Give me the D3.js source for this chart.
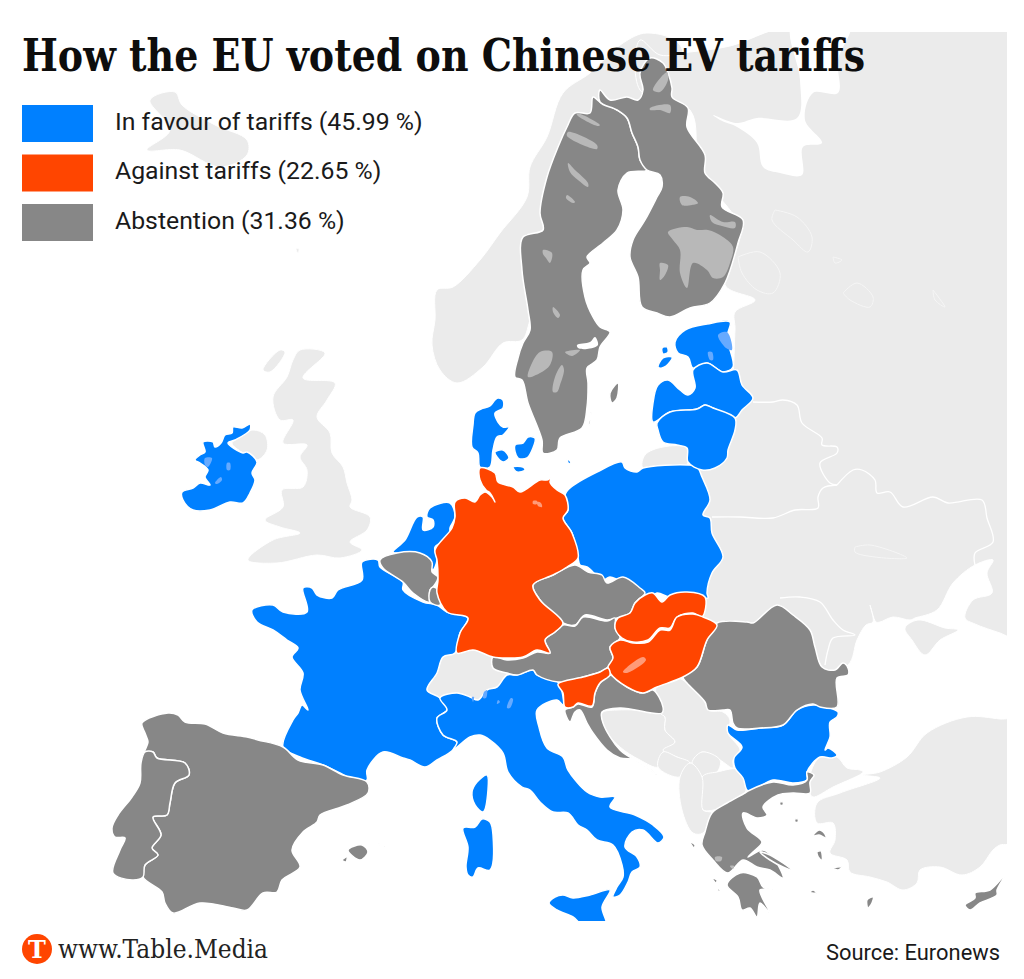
<!DOCTYPE html>
<html>
<head>
<meta charset="utf-8">
<script src="https://cdn.jsdelivr.net/npm/d3@7"></script>
<style>
  html, body { margin: 0; padding: 0; background: #fff; }
  svg { display: block; }
</style>
</head>
<body>
<svg id="chart" width="1024" height="979"></svg>
<script>
// legend
const categories = ['In favour of tariffs (45.99 %)', 'Against tariffs (22.65 %)', 'Abstention (31.36 %)']

// outlines, map grid units (1024 x 979 sheet)
const sheet = [[0,0],[1024,0],[1024,979],[0,979]]
// the map is cropped to this window
const mapWindow = [[0,32],[1007,921]]

// EU members, in favour
const ireland = [[203,442],[213,442],[215,447],[221,443],[225,435],[232,433],[233,427],[242,428],[250,424],[250,430],[235,440],[228,443],[243,453],[247,452],[257,462],[252,473],[255,480],[250,493],[243,503],[230,502],[210,510],[193,510],[183,500],[182,492],[193,488],[200,483],[210,485],[205,477],[208,470],[200,463],[195,460],[200,455],[205,452]]
const netherlands = [[430,508],[450,503],[455,517],[450,528],[450,538],[435,547],[437,560],[433,570],[430,565],[427,557],[410,553],[393,552],[405,540],[417,517],[423,517],[423,530],[433,527],[433,520],[427,517]]
const france = [[362,562],[378,560],[380,567],[403,582],[403,590],[423,602],[437,605],[447,612],[468,618],[460,633],[455,653],[443,657],[437,673],[427,690],[440,698],[447,710],[437,718],[443,735],[457,742],[453,750],[437,760],[425,767],[410,760],[403,758],[383,752],[367,770],[367,780],[357,782],[340,773],[323,765],[300,757],[283,747],[293,720],[298,713],[302,705],[308,710],[300,690],[303,673],[292,657],[298,648],[287,640],[273,630],[257,622],[252,610],[273,605],[283,612],[307,612],[303,588],[312,588],[317,595],[332,598],[338,590],[362,580]]
const corsica = [[487,775],[488,790],[483,812],[475,805],[472,792],[477,782]]
const italy = [[440,698],[457,693],[470,697],[478,700],[487,690],[497,687],[507,675],[517,675],[533,670],[537,675],[558,682],[563,705],[557,700],[537,710],[539,727],[547,748],[563,757],[568,770],[587,792],[600,797],[615,797],[610,807],[635,815],[653,825],[664,837],[658,843],[643,830],[632,832],[625,847],[637,857],[640,867],[632,872],[628,882],[620,895],[613,897],[617,887],[623,877],[622,865],[613,845],[597,840],[587,830],[578,825],[568,813],[553,812],[540,802],[530,790],[522,787],[508,772],[503,753],[490,740],[480,735],[470,737],[453,750],[457,742],[443,735],[437,718],[447,710]]
const sicily = [[549,903],[555,897],[563,895],[573,898],[590,895],[610,890],[602,907],[606,925],[583,925],[573,917],[557,910]]
const sardinia = [[463,828],[475,827],[482,819],[490,822],[493,835],[490,870],[478,868],[473,877],[468,875],[466,867],[468,847]]
const poland = [[570,488],[597,472],[622,462],[625,468],[637,472],[643,468],[688,465],[697,467],[702,477],[710,500],[703,515],[710,518],[712,533],[723,557],[712,573],[707,593],[708,598],[687,593],[670,597],[657,593],[648,600],[643,595],[630,587],[610,577],[603,580],[587,567],[580,565],[578,558],[572,533],[563,518],[568,510],[565,495]]
const jutland = [[498,398],[503,400],[503,408],[495,413],[498,422],[503,427],[509,427],[503,435],[497,437],[493,450],[490,467],[480,467],[478,453],[472,447],[473,425],[475,413],[481,409],[490,406],[495,400]]
const funen = [[495,452],[503,450],[509,458],[503,462],[497,457]]
const zealand = [[515,445],[523,443],[528,437],[535,438],[533,448],[527,458],[518,458]]
const lolland = [[513,467],[523,467],[525,470],[517,472]]
const bornholm = [[567,459],[571,462],[569,464]]
const estonia = [[675,342],[685,330],[707,324],[730,322],[727,337],[733,367],[723,372],[707,363],[693,368],[688,357],[678,353]]
const hiiumaa = [[662,348],[667,347],[668,352],[663,354]]
const saaremaa = [[658,367],[663,358],[672,357],[670,362],[662,368]]
const latvia = [[653,422],[653,403],[658,385],[668,380],[680,390],[688,395],[695,388],[693,370],[707,363],[723,372],[737,370],[742,385],[753,398],[742,410],[735,418],[713,408],[705,405],[697,409],[670,412]]
const lithuania = [[657,423],[670,412],[697,409],[705,405],[713,408],[735,418],[735,430],[728,450],[727,458],[715,468],[702,470],[688,462],[687,448],[677,445],[663,442],[658,430]]
const bulgaria = [[728,725],[737,730],[760,728],[783,725],[797,710],[813,705],[827,707],[838,712],[837,717],[830,722],[830,737],[825,750],[828,748],[837,755],[832,758],[820,757],[807,772],[807,780],[793,783],[773,780],[748,791],[743,778],[735,768],[734,758],[742,747],[728,733]]

// EU members, against
const germany = [[480,468],[495,473],[498,482],[513,487],[520,492],[540,480],[547,480],[552,477],[550,482],[557,490],[565,495],[568,510],[563,518],[572,533],[578,558],[567,567],[553,575],[533,585],[540,600],[563,623],[555,632],[545,640],[550,653],[537,650],[523,657],[507,658],[493,657],[473,650],[457,653],[460,633],[468,618],[447,612],[437,593],[438,580],[437,560],[435,550],[452,528],[455,517],[455,502],[465,498],[475,502],[480,495],[485,492],[492,497],[495,502],[490,493],[486,490],[480,480]]
const slovakia = [[645,595],[653,593],[662,602],[670,595],[687,592],[705,597],[702,617],[693,613],[677,617],[670,628],[660,628],[648,640],[633,642],[622,638],[615,628],[618,618],[630,613],[635,603]]
const hungary = [[620,640],[633,643],[648,642],[660,630],[670,630],[677,617],[693,614],[703,617],[717,625],[707,640],[697,667],[683,677],[657,687],[643,693],[627,687],[610,673],[608,667],[613,658],[610,647]]
const slovenia = [[558,684],[583,677],[600,672],[608,668],[610,675],[600,683],[595,693],[592,706],[578,703],[573,707],[565,707],[563,693]]

// EU members, abstained
const belgium = [[380,560],[397,553],[420,553],[432,562],[432,572],[438,577],[433,587],[430,590],[430,602],[413,593],[403,582],[383,568]]
const luxembourg = [[433,587],[438,590],[440,605],[430,602],[430,590]]
const czechia = [[533,585],[553,575],[575,565],[588,572],[602,575],[607,583],[623,577],[640,588],[645,593],[635,603],[630,613],[617,618],[607,620],[585,615],[575,625],[563,623],[540,600]]
const austria = [[493,657],[507,660],[523,658],[537,652],[550,653],[545,640],[555,632],[563,625],[575,626],[583,617],[607,621],[615,618],[615,628],[620,638],[610,647],[613,658],[608,667],[600,672],[583,677],[558,682],[537,675],[533,670],[517,675],[507,673],[493,668]]
const croatia = [[610,675],[627,687],[643,693],[653,690],[663,707],[662,713],[620,708],[602,712],[603,723],[620,750],[640,763],[657,775],[637,760],[620,758],[607,750],[593,733],[587,723],[580,710],[575,712],[570,722],[565,710],[573,707],[578,704],[592,707],[595,693],[600,683]]
const romania = [[777,605],[793,615],[810,630],[815,647],[822,667],[835,670],[843,663],[848,668],[848,675],[837,678],[837,707],[820,707],[813,704],[797,710],[783,725],[760,728],[737,728],[733,723],[730,710],[723,710],[708,710],[705,702],[687,683],[683,677],[697,667],[707,640],[717,623],[747,622],[753,623]]
const spain = [[142,723],[168,713],[178,715],[185,722],[205,724],[223,733],[247,737],[258,740],[283,747],[298,760],[323,765],[343,775],[367,782],[368,793],[347,805],[320,815],[317,822],[303,832],[292,850],[300,867],[282,880],[277,892],[263,893],[247,910],[233,908],[200,903],[173,913],[165,903],[162,892],[143,877],[145,865],[158,855],[152,848],[161,835],[153,817],[167,815],[170,803],[175,783],[189,775],[185,763],[157,758],[153,752],[145,752],[148,742],[145,733]]
const portugal = [[145,752],[153,752],[157,758],[185,763],[189,775],[175,783],[170,803],[167,815],[153,817],[161,835],[152,848],[158,855],[145,865],[143,877],[132,880],[113,873],[120,850],[125,838],[115,837],[112,828],[118,815],[132,797],[140,783],[141,763]]
const mallorca = [[348,850],[362,845],[368,852],[360,860]]
const menorca = [[377,843],[385,847],[381,846]]
const ibiza = [[342,860],[347,857],[346,862]]
const sweden = [[593,97],[600,102],[617,110],[627,118],[632,133],[638,147],[640,160],[647,170],[627,173],[618,190],[623,210],[617,230],[603,243],[587,257],[590,263],[583,270],[585,297],[593,317],[600,327],[610,332],[600,347],[597,360],[587,368],[588,383],[587,407],[582,428],[560,438],[557,450],[543,453],[542,440],[528,403],[522,380],[515,377],[518,358],[523,343],[530,330],[528,310],[522,270],[523,237],[543,230],[540,213],[547,177],[558,147],[567,127],[575,113],[590,113]]
const gotland = [[610,393],[618,383],[617,398],[612,403]]
const oland = [[589,425],[591,412],[590,425]]
const finland = [[650,58],[663,63],[668,73],[672,88],[672,97],[688,108],[687,127],[705,155],[705,173],[715,183],[723,193],[722,207],[743,220],[738,243],[725,283],[710,303],[690,308],[670,317],[657,313],[642,307],[638,277],[630,257],[633,240],[645,220],[657,197],[662,187],[660,175],[647,170],[640,160],[638,147],[632,133],[627,118],[617,110],[600,102],[600,90],[610,100],[627,97],[638,100],[643,90],[640,73]]
const greece = [[748,791],[773,782],[793,785],[807,780],[807,772],[814,775],[810,782],[810,793],[793,793],[778,795],[763,807],[767,815],[758,818],[743,813],[747,828],[762,842],[753,852],[748,857],[763,850],[775,860],[783,878],[770,870],[757,867],[743,860],[728,873],[713,860],[702,845],[705,832],[712,813],[727,803],[745,793]]
const peloponnese = [[727,885],[740,873],[757,877],[763,887],[773,890],[760,890],[770,913],[760,903],[757,917],[750,908],[742,910],[738,897]]
const euboea = [[760,852],[770,855],[783,863],[792,870],[783,867],[770,860]]
const lesbos = [[813,836],[819,830],[825,834],[826,838],[819,835]]
const chios = [[817,852],[821,851],[822,860],[819,858]]
const samos = [[833,868],[842,867],[838,870]]
const rhodes = [[867,900],[873,897],[872,903],[868,908]]
const thasos = [[780,802],[783,802],[783,805],[780,805]]
const lemnos = [[795,819],[798,819],[798,822],[795,822]]
const corfu = [[690,842],[695,845],[694,848]]
const kefalonia = [[712,878],[717,880],[716,883]]
const zakynthos = [[717,888],[720,890],[719,892]]
const kos = [[810,892],[813,890],[817,893],[812,893]]
const cyprus = [[965,905],[975,898],[975,893],[990,890],[1005,875],[997,890],[997,895],[980,903],[970,910]]

// everything else, pale land
const iceland = [[150,100],[175,92],[182,105],[215,125],[247,140],[247,155],[220,167],[180,150],[147,150],[170,130]]
const britain = [[300,350],[325,353],[303,378],[335,383],[327,400],[317,417],[330,433],[332,453],[343,467],[347,483],[352,500],[350,507],[370,517],[367,530],[350,542],[362,550],[340,558],[317,555],[277,563],[248,560],[273,540],[300,533],[280,527],[265,520],[283,507],[282,490],[303,487],[307,470],[300,457],[307,445],[283,443],[293,420],[280,420],[273,397],[287,377],[293,360]]
const hebrides = [[263,370],[280,350],[285,352],[270,372]]
const ulster = [[232,443],[240,437],[253,430],[265,435],[267,450],[257,460],[243,453]]
const faroe = [[296,249],[299,249],[298,253]]
const norway = [[563,93],[590,73],[623,43],[647,33],[680,45],[680,100],[640,100],[600,110],[560,200],[530,320],[522,340],[503,343],[483,367],[457,383],[440,370],[432,345],[435,320],[437,290],[453,287],[480,260],[500,233],[527,197],[530,167],[547,137]]
const easternLand = [[640,40],[660,55],[690,52],[730,46],[790,26],[1000,26],[1015,26],[1015,40],[1015,625],[1015,638],[1000,633],[975,624],[965,618],[973,600],[992,593],[987,573],[993,560],[975,565],[953,583],[937,610],[915,618],[910,620],[893,617],[880,622],[876,622],[870,605],[873,622],[866,625],[857,640],[848,665],[800,680],[700,660],[690,600],[700,500],[690,465],[725,420],[735,330],[735,312],[755,300],[725,285],[740,230],[700,170],[690,110],[640,90]]
const crimea = [[905,628],[918,620],[945,628],[958,630],[940,640],[925,655],[912,640]]
const kaliningrad = [[645,455],[663,447],[687,448],[688,463],[643,468]]
const turkey = [[1015,721],[1000,719],[967,717],[927,733],[907,757],[880,772],[863,775],[880,778],[840,793],[817,803],[817,823],[833,823],[835,840],[830,853],[847,860],[850,872],[870,877],[887,882],[903,890],[917,883],[920,870],[940,867],[962,875],[980,867],[993,850],[1000,845],[1015,842]]
const thrace = [[837,757],[847,768],[860,770],[863,772],[833,787],[813,797],[810,793],[810,775],[820,757]]
const switzerland = [[427,690],[437,673],[443,657],[455,653],[473,650],[493,657],[493,668],[507,673],[497,687],[487,690],[478,700],[470,697],[457,693],[440,698]]
const bosnia = [[602,713],[617,710],[660,713],[665,717],[665,730],[675,742],[663,752],[658,767],[640,760],[620,747],[603,727]]
const serbia = [[657,685],[677,678],[687,683],[705,702],[708,710],[723,712],[730,720],[728,733],[740,750],[733,760],[733,768],[720,760],[702,752],[692,763],[677,757],[663,750],[675,742],[665,730],[665,717],[660,713]]
const montenegro = [[658,767],[663,752],[677,757],[690,763],[680,777]]
const kosovo = [[692,763],[702,752],[720,760],[717,772],[702,777]]
const macedonia = [[702,777],[717,772],[740,770],[745,793],[703,810]]
const albania = [[680,777],[690,763],[702,777],[703,810],[712,813],[703,833],[693,833],[682,810]]

// water cut into the pale land
const whiteSea = [[713,115],[737,123],[757,118],[797,118],[800,80],[792,25],[850,25],[838,60],[838,93],[813,93],[805,120],[822,143],[803,147],[802,175],[780,173],[763,167],[757,143],[737,127],[720,120]]
const malaren = [[577,345],[590,342],[595,337],[598,345],[587,349],[578,348]]

// lakes, lighter tone of the country they sit in
const lakesFavour = [
  [[205,458],[212,458],[208,467],[205,465]], [[227,463],[230,463],[230,470],[227,470]], [[215,483],[221,477],[222,480],[217,484]],
  [[472,697],[474,697],[473,702]], [[484,692],[487,690],[486,698],[483,698]], [[498,700],[500,702],[497,704]], [[511,698],[513,699],[510,708],[507,708]],
  [[718,335],[727,332],[732,350],[726,348]], [[708,352],[712,352],[713,360],[710,360]]
]
const lakesAgainst = [
  [[623,672],[643,657],[646,660],[627,673]], [[533,501],[537,501],[537,504],[533,504]], [[537,502],[541,503],[542,507],[538,506]]
]
const lakesAbstain = [
  [[668,232],[687,227],[697,230],[708,230],[723,237],[733,247],[730,263],[723,277],[713,278],[707,270],[693,263],[687,288],[680,273],[680,250],[673,240]],
  [[710,215],[723,222],[735,222],[735,228],[722,226],[712,222]], [[680,197],[690,197],[698,203],[692,205],[682,205]],
  [[660,263],[668,265],[665,275],[660,280],[660,270]], [[650,108],[670,105],[670,113],[660,110],[650,110]], [[653,90],[667,72],[668,80],[660,92]],
  [[568,132],[597,145],[597,149],[567,136]], [[577,113],[600,125],[598,126],[577,115]], [[568,163],[575,170],[588,183],[588,187],[578,180],[570,172]],
  [[567,195],[575,202],[573,203],[566,198]], [[543,250],[552,253],[550,263],[546,258],[543,254]], [[553,307],[560,315],[558,318],[553,312]],
  [[528,377],[532,363],[540,352],[552,352],[550,365],[540,373]], [[553,392],[555,377],[562,365],[564,370],[560,385],[557,392]], [[565,352],[580,350],[572,356]],
  [[715,857],[722,857],[721,861],[716,861]], [[730,866],[734,866],[733,869]]
]

// white lines on the pale land
const paleBorders = [
  [[753,402],[773,402],[783,400],[797,405],[802,423],[822,438],[822,445],[837,447],[837,453],[820,463],[830,483],[837,485]],
  [[712,517],[740,517],[773,518],[795,510],[818,508],[818,497],[823,488],[837,485]],
  [[837,485],[853,470],[862,470],[875,480],[877,493],[890,492],[903,507],[933,497],[948,503],[982,500],[987,518],[993,542],[975,553],[975,565]],
  [[780,598],[800,597],[820,602],[833,620],[843,630],[855,635],[833,638],[828,650],[825,665]]
]
// faint outlines of the big lakes in the east
const lakeOutlines = [
  [[738,257],[760,252],[780,273],[773,293],[757,290],[742,273],[738,257]],
  [[775,210],[797,217],[812,237],[808,252],[793,240],[772,220],[775,210]],
  [[843,293],[857,283],[873,297],[870,307],[850,300],[843,293]],
  [[933,290],[945,307],[935,300],[933,290]],
  [[833,257],[842,260],[835,263],[833,257]],
  [[855,547],[870,545],[907,558],[875,557],[855,552],[855,547]]
]

const inFavour = [ireland, netherlands, france, corsica, italy, sicily, sardinia, poland, jutland, funen, zealand, lolland, bornholm, estonia, hiiumaa, saaremaa, latvia, lithuania, bulgaria]
const against = [germany, slovakia, hungary, slovenia]
const abstained = [belgium, luxembourg, czechia, austria, croatia, romania, spain, portugal, mallorca, menorca, ibiza, sweden, gotland, oland, finland, greece, peloponnese, euboea, lesbos, chios, samos, rhodes, thasos, lemnos, corfu, kefalonia, zakynthos, kos, cyprus]
const paleLand = [iceland, britain, hebrides, ulster, faroe, norway, easternLand, crimea, kaliningrad, turkey, thrace, switzerland, bosnia, serbia, montenegro, kosovo, macedonia, albania]

const width = 1024
const height = 979
const blue = '#0080ff'
const orange = '#ff4500'
const grey = '#878787'
const pale = '#ebebeb'

const color = d3.scaleOrdinal().domain(categories).range([blue, orange, grey])

const svg = d3.select('#chart')

const projection = d3.geoIdentity().fitExtent([[0, 0], [width, height]], {type: 'Polygon', coordinates: [sheet]})

// coasts are smooth in the picture, so round the read-off points
const outline = d3.line()
    .x(d => projection(d)[0])
    .y(d => projection(d)[1])
    .curve(d3.curveCatmullRomClosed.alpha(0.5))
const line = d3.line()
    .x(d => projection(d)[0])
    .y(d => projection(d)[1])
    .curve(d3.curveCatmullRom.alpha(0.5))

const [windowMin, windowMax] = mapWindow.map(p => projection(p))
svg.append('clipPath')
    .attr('id', 'map-window')
    .append('rect')
    .attr('x', windowMin[0])
    .attr('y', windowMin[1])
    .attr('width', windowMax[0] - windowMin[0])
    .attr('height', windowMax[1] - windowMin[1])

const map = svg.append('g').attr('clip-path', 'url(#map-window)')

function drawAreas(rings, fill, stroke, strokeWidth) {
    map.append('g')
        .selectAll('path')
        .data(rings)
        .join('path')
        .attr('d', outline)
        .attr('fill', fill)
        .attr('stroke', stroke)
        .attr('stroke-width', strokeWidth)
        .attr('stroke-linejoin', 'round')
}

function drawLines(lines, stroke, strokeWidth) {
    map.append('g')
        .selectAll('path')
        .data(lines)
        .join('path')
        .attr('d', line)
        .attr('fill', 'none')
        .attr('stroke', stroke)
        .attr('stroke-width', strokeWidth)
}

// base land
drawAreas(paleLand, pale, '#fff', 1)
drawAreas([whiteSea], '#fff', 'none', 0)
drawLines(paleBorders, '#fff', 1.3)
drawLines(lakeOutlines, '#f6f6f6', 1)

// member states
drawAreas(inFavour, blue, '#fff', 1.5)
drawAreas(abstained, grey, '#fff', 1.5)
drawAreas(against, orange, '#fff', 1.5)

// lakes
drawAreas(lakesFavour, '#66aaff', 'none', 0)
drawAreas(lakesAgainst, '#ff9a78', 'none', 0)
drawAreas(lakesAbstain, '#b8b8b8', 'none', 0)
drawAreas([malaren], '#fff', 'none', 0)

// title
svg.append('text')
    .attr('x', 22)
    .attr('y', 71)
    .attr('font-family', '"DejaVu Serif", serif')
    .attr('font-weight', 700)
    .attr('font-size', 45)
    .attr('textLength', 843)
    .attr('lengthAdjust', 'spacingAndGlyphs')
    .attr('fill', '#0d0d0d')
    .text('How the EU voted on Chinese EV tariffs')

// legend
const legendY = d3.scaleBand().domain(categories).range([105, 241]).paddingInner(0.2525).paddingOuter(0)
const legend = svg.append('g')
    .selectAll('g')
    .data(categories)
    .join('g')
    .attr('transform', d => `translate(22,${legendY(d)})`)

legend.append('rect')
    .attr('width', 71)
    .attr('height', legendY.bandwidth())
    .attr('fill', d => color(d))

legend.append('text')
    .attr('x', 93)
    .attr('y', 25)
    .attr('font-family', 'Roboto, sans-serif')
    .attr('font-size', 24.8)
    .attr('fill', '#1a1a1a')
    .text(d => d)

// footer
svg.append('circle').attr('cx', 37).attr('cy', 949).attr('r', 15).attr('fill', orange)
svg.append('text')
    .attr('x', 37)
    .attr('y', 958)
    .attr('text-anchor', 'middle')
    .attr('font-family', '"DejaVu Serif", serif')
    .attr('font-weight', 700)
    .attr('font-size', 24)
    .attr('fill', '#fff')
    .text('T')
svg.append('text')
    .attr('x', 58)
    .attr('y', 958)
    .attr('font-family', '"DejaVu Serif", serif')
    .attr('font-size', 26)
    .attr('textLength', 210)
    .attr('lengthAdjust', 'spacingAndGlyphs')
    .attr('fill', '#222')
    .text('www.Table.Media')
svg.append('text')
    .attr('x', 1000)
    .attr('y', 960)
    .attr('text-anchor', 'end')
    .attr('font-family', 'Roboto, sans-serif')
    .attr('font-size', 21.9)
    .attr('fill', '#1a1a1a')
    .text('Source: Euronews')
</script>
</body>
</html>
